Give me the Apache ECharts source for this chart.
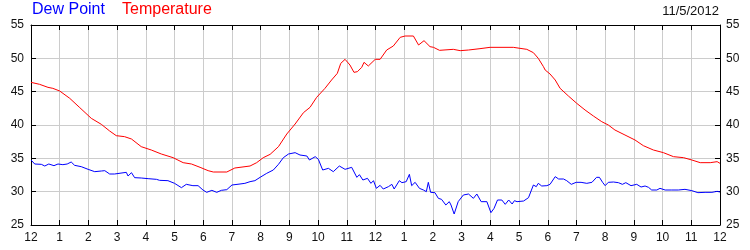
<!DOCTYPE html>
<html>
<head>
<meta charset="utf-8">
<script src="https://cdn.jsdelivr.net/npm/echarts@6/dist/echarts.min.js"></script>
<style>html,body{margin:0;padding:0;background:#fff;}#c{width:750px;height:250px;}</style>
</head>
<body>
<div id="c"></div>
<script>
var hourLabels = ["12","1","2","3","4","5","6","7","8","9","10","11","12","1","2","3","4","5","6","7","8","9","10","11","12"];
var yTicks = [25,30,35,40,45,50,55];
var dateLabel = "11/5/2012";

var tempHours = [0,0.3,0.59,0.76,1.0,1.35,1.7,2.1,2.45,2.74,2.97,3.26,3.5,3.84,4.19,4.54,4.95,5.3,5.59,5.89,6.17,6.35,6.82,7.1,7.63,7.86,8.09,8.33,8.62,8.91,9.2,9.49,9.72,9.95,10.24,10.47,10.67,10.79,10.94,11.11,11.25,11.37,11.52,11.6,11.75,11.99,12.16,12.39,12.62,12.86,13.03,13.32,13.5,13.69,13.9,14.02,14.23,14.71,14.95,15.24,15.64,15.99,16.8,17.27,17.5,17.67,17.85,17.91,18.08,18.26,18.43,18.72,19.01,19.3,19.59,19.88,20.11,20.34,20.69,21.04,21.33,21.68,22.03,22.38,22.73,23.02,23.31,23.66,23.9,24];
var tempValues = [46.4,46.1,45.65,45.5,45.1,44.0,42.6,41.0,40.1,39.1,38.4,38.25,37.9,36.75,36.25,35.65,35.1,34.35,34.15,33.65,33.15,32.95,32.95,33.55,33.85,34.35,35.1,35.6,36.75,38.65,40.15,41.85,42.65,44.15,45.5,46.75,47.75,49.25,49.85,49.0,47.9,48.0,48.65,49.4,48.85,49.85,49.85,51.25,51.85,53.15,53.35,53.35,52.0,52.65,51.75,51.65,51.2,51.35,51.15,51.25,51.45,51.65,51.65,51.35,50.85,50.0,48.75,48.25,47.65,46.75,45.5,44.35,43.25,42.25,41.35,40.5,40.0,39.25,38.5,37.75,36.9,36.25,35.85,35.25,35.1,34.75,34.35,34.35,34.5,34.25];

var dewHours = [0,0.13,0.36,0.48,0.62,0.8,0.94,1.11,1.26,1.40,1.52,1.75,1.99,2.22,2.45,2.57,2.74,2.91,2.97,3.32,3.38,3.5,3.61,3.84,4.08,4.37,4.43,4.48,4.77,5.0,5.24,5.41,5.64,5.82,5.99,6.12,6.3,6.47,6.63,6.82,7.0,7.28,7.45,7.63,7.8,7.98,8.21,8.44,8.62,8.79,8.97,9.2,9.37,9.61,9.7,9.9,10.01,10.16,10.36,10.53,10.74,10.94,11.17,11.35,11.44,11.56,11.72,11.84,11.93,12.03,12.16,12.27,12.45,12.57,12.65,12.83,12.92,13.07,13.18,13.26,13.38,13.53,13.67,13.77,13.84,13.92,14.07,14.19,14.3,14.45,14.57,14.63,14.74,14.88,15.06,15.24,15.41,15.53,15.68,15.88,16.02,16.13,16.25,16.4,16.52,16.64,16.76,16.84,16.93,17.16,17.33,17.5,17.6,17.67,17.79,17.97,18.08,18.26,18.38,18.55,18.66,18.82,18.99,19.16,19.22,19.36,19.54,19.7,19.8,19.91,20.0,20.11,20.29,20.46,20.6,20.72,20.9,21.1,21.25,21.39,21.51,21.62,21.8,21.91,22.09,22.32,22.38,22.55,22.78,23.02,23.23,23.48,23.72,23.9,24];
var dewValues = [34.75,34.15,34.1,33.85,34.15,33.9,34.15,34.05,34.15,34.45,33.95,33.75,33.35,33.0,33.1,33.15,32.65,32.65,32.9,32.9,32.35,32.85,32.1,32.05,31.95,31.85,32.05,31.7,31.65,31.25,30.6,31.1,30.9,30.9,30.25,29.9,30.2,29.9,30.2,30.3,31.0,31.15,31.25,31.5,31.65,32.15,32.75,33.25,34.1,35.1,35.65,35.85,35.5,35.35,34.75,35.25,34.85,33.25,33.5,33.0,33.85,33.35,33.65,32.15,32.55,31.75,32.0,31.25,31.65,30.5,30.95,30.4,30.75,31.1,30.4,31.65,31.35,31.5,32.6,30.9,31.4,30.5,30.25,30.0,31.4,29.9,29.85,29.0,28.85,28.0,28.5,28.0,26.65,28.5,29.5,29.65,29.0,29.65,28.5,28.5,26.85,27.5,28.75,28.75,28.1,28.75,28.15,28.65,28.5,28.6,29.1,31.0,30.75,31.25,30.85,30.9,31.1,32.25,31.9,31.9,31.65,31.1,31.4,31.4,31.65,31.25,31.4,32.15,32.15,31.4,30.9,31.4,31.45,31.35,31.1,31.35,30.9,31.1,30.7,30.85,30.65,30.25,30.25,30.5,30.25,30.25,30.4,30.25,30.35,30.15,29.85,29.9,29.9,30.05,29.95];

function pairs(xs, ys){ var out=[]; for(var i=0;i<xs.length;i++) out.push([xs[i], ys[i]]); return out; }

var FONT = '"Liberation Sans", Arial, sans-serif';
var chart = echarts.init(document.getElementById('c'), null, {renderer:'canvas'});
var lblColor = '#111';
var axisCommon = {
  axisLine:{show:true, onZero:false, lineStyle:{color:'#000', width:1}},
  axisTick:{show:true, inside:true, length:5, lineStyle:{color:'#000'}}
};
chart.setOption({
  animation:false,
  backgroundColor:'#fff',
  title:[{
    text:'Dew Point', left:32, top:2, padding:0,
    textStyle:{color:'#0000ff', fontSize:16, fontWeight:'normal', fontFamily:FONT}
  },{
    text:'Temperature', left:122, top:2, padding:0,
    textStyle:{color:'#ff0000', fontSize:16, fontWeight:'normal', fontFamily:FONT}
  },{
    text:dateLabel, right:31, top:5, padding:0,
    textStyle:{color:'#111', fontSize:13, fontWeight:'normal', fontFamily:FONT}
  }],
  grid:{left:31, right:30, top:25, bottom:25, containLabel:false},
  xAxis:[
    Object.assign({type:'value', position:'bottom', min:0, max:24, interval:1,
      axisLabel:{color:lblColor, fontSize:12, fontFamily:FONT, margin:7,
        formatter:function(v){ return hourLabels[Math.round(v)]; }},
      splitLine:{show:true, lineStyle:{color:'#cccccc', width:1}}}, axisCommon),
    Object.assign({type:'value', position:'top', min:0, max:24, interval:1,
      axisLabel:{show:false}, splitLine:{show:false}}, axisCommon)
  ],
  yAxis:[
    Object.assign({type:'value', position:'left', min:yTicks[0], max:yTicks[yTicks.length-1], interval:5,
      axisLabel:{color:lblColor, fontSize:12, fontFamily:FONT, margin:7},
      splitLine:{show:true, lineStyle:{color:'#cccccc', width:1}}}, axisCommon),
    Object.assign({type:'value', position:'right', min:yTicks[0], max:yTicks[yTicks.length-1], interval:5,
      axisLabel:{color:lblColor, fontSize:12, fontFamily:FONT, margin:6},
      splitLine:{show:false}}, axisCommon)
  ],
  series:[
    {name:'Temperature', type:'line', xAxisIndex:0, yAxisIndex:0, showSymbol:false, symbol:'none',
     lineStyle:{color:'#ff0000', width:1}, data:pairs(tempHours, tempValues), z:3},
    {name:'Dew Point', type:'line', xAxisIndex:0, yAxisIndex:0, showSymbol:false, symbol:'none',
     lineStyle:{color:'#0000ff', width:1}, data:pairs(dewHours, dewValues), z:3}
  ]
});
</script>
</body>
</html>
